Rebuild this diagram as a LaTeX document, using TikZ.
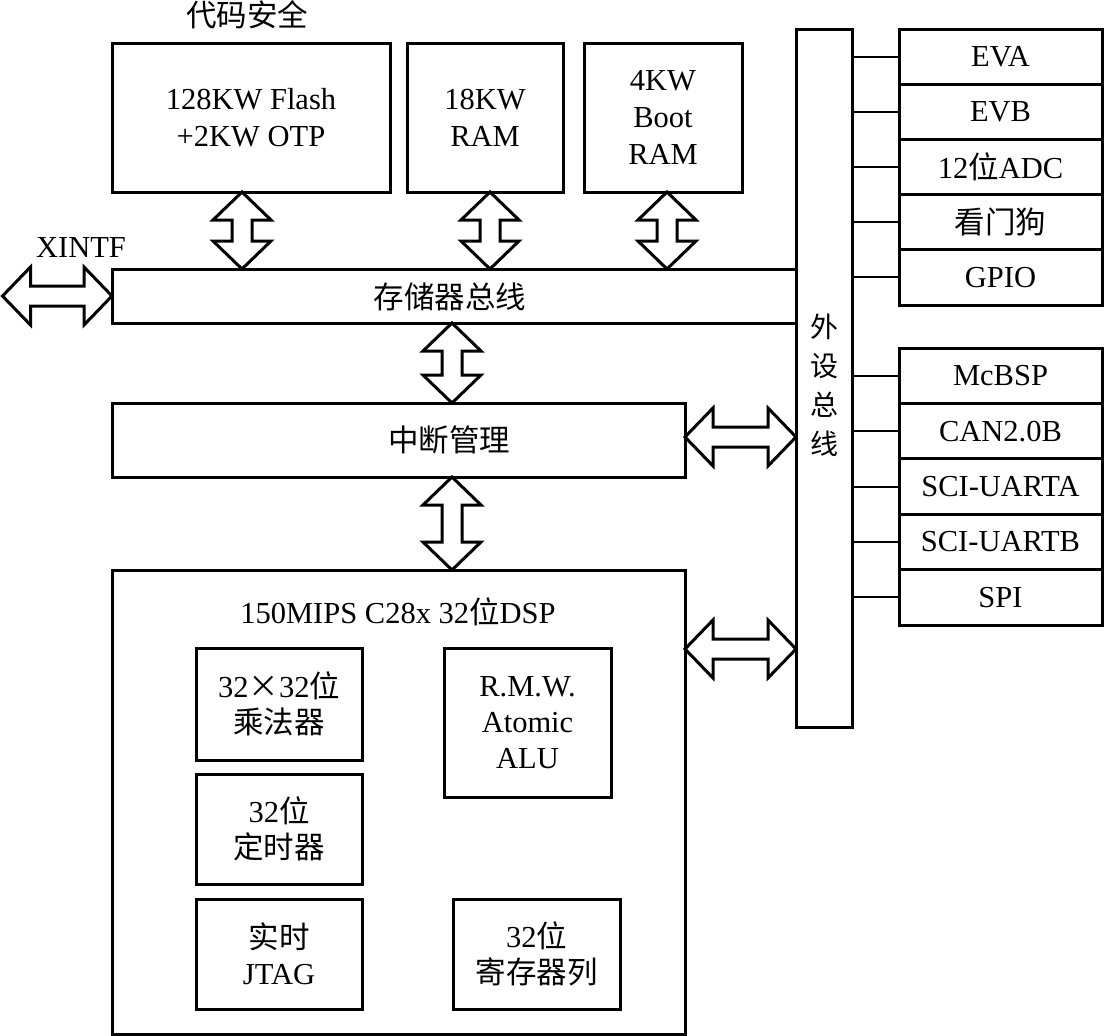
\documentclass[tikz,border=0pt]{standalone}
\usepackage{fontspec}
\setmainfont{Liberation Serif}
\newfontfamily\cjk{Noto Sans CJK SC}
\usetikzlibrary{calc}
\newcommand{\zh}[1]{{\cjk #1}}
\newcommand{\vbi}[2]{\draw[biarrow] let \p1=(#1), \p2=(#2) in
  (\x1,\y1) -- (\x1+29pt,\y1-28pt) -- (\x1+10pt,\y1-28pt) -- (\x1+10pt,\y2+28pt) -- (\x1+29pt,\y2+28pt)
  -- (\x1,\y2) -- (\x1-29pt,\y2+28pt) -- (\x1-10pt,\y2+28pt) -- (\x1-10pt,\y1-28pt) -- (\x1-29pt,\y1-28pt) -- cycle;}
\newcommand{\hbi}[2]{\draw[biarrow] let \p1=(#1), \p2=(#2) in
  (\x1,\y1) -- (\x1+28pt,\y1+29pt) -- (\x1+28pt,\y1+10pt) -- (\x2-28pt,\y1+10pt) -- (\x2-28pt,\y1+29pt)
  -- (\x2,\y1) -- (\x2-28pt,\y1-29pt) -- (\x2-28pt,\y1-10pt) -- (\x1+28pt,\y1-10pt) -- (\x1+28pt,\y1-29pt) -- cycle;}
\begin{document}
\begin{tikzpicture}[x=1pt,y=-1pt,
  box/.style={draw, line width=3pt, inner sep=0pt, outer sep=0pt, align=center, font=\fontsize{30.5}{37}\selectfont},
  ibox/.style={box, minimum width=166, font=\fontsize{30.5}{36}\selectfont},
  rbox/.style={box, minimum width=203},
  txt/.style={inner sep=0pt, align=center, font=\fontsize{30.5}{37}\selectfont},
  thinline/.style={line width=2pt},
  biarrow/.style={draw, line width=3pt, fill=white, line join=miter}]
\useasboundingbox (0,0) rectangle (1104,1036);

% memory blocks
\node[txt] (sec) at (247,15) {\zh{代码安全}};
\node[box, minimum width=278, minimum height=149] (flash) at (251,117.5) {128KW Flash\\+2KW OTP};
\node[box, minimum width=156, minimum height=149] (ram) at (485,117.5) {18KW\\RAM};
\node[box, minimum width=158, minimum height=149] (boot) at (663,117.5) {4KW\\Boot\\RAM};

% buses
\node[box, minimum width=684, minimum height=54] (mbus) at (454,296) {};
\node[txt] (mbust) at (450,297) {\zh{存储器总线}};
\node[box, minimum width=56, minimum height=698] (pbus) at (824,378) {};
\node[txt, font=\fontsize{28}{39}\selectfont] (pbust) at (824,385) {\zh{外}\\\zh{设}\\\zh{总}\\\zh{线}};
\node[txt] (xintf) at (81,248) {XINTF};

% interrupt and DSP
\node[box, minimum width=573, minimum height=74] (intr) at (398.5,440) {};
\node[txt] (intrt) at (449,440) {\zh{中断管理}};
\node[box, minimum width=573, minimum height=464] (dsp) at (398.5,802) {};
\node[txt] (dspt) at (398,612) {150MIPS C28x 32\zh{位}DSP};
\node[ibox, minimum height=112] (mult) at (279,704) {32\zh{×}32\zh{位}\\\zh{乘法器}};
\node[ibox, minimum height=110] (timer) at (279,829) {32\zh{位}\\\zh{定时器}};
\node[ibox, minimum height=110] (jtag) at (279,954) {\zh{实时}\\JTAG};
\node[ibox, minimum width=167, minimum height=149] (alu) at (527.5,722.5) {R.M.W.\\Atomic\\ALU};
\node[ibox, minimum width=167, minimum height=110] (reg) at (536.5,954) {32\zh{位}\\\zh{寄存器列}};

% peripherals
\node[rbox, minimum height=55.2] (eva) at (1000.5,56.6) {EVA};
\node[rbox, minimum height=55.2] (evb) at (1000.5,111.8) {EVB};
\node[rbox, minimum height=55.2] (adc) at (1000.5,167.0) {12\zh{位}ADC};
\node[rbox, minimum height=55.2] (wd) at (1000.5,222.2) {\zh{看门狗}};
\node[rbox, minimum height=55.2] (gpio) at (1000.5,277.4) {GPIO};
\node[rbox, minimum height=55.4] (mcbsp) at (1000.5,375.7) {McBSP};
\node[rbox, minimum height=55.4] (can) at (1000.5,431.1) {CAN2.0B};
\node[rbox, minimum height=55.4] (scia) at (1000.5,486.5) {SCI-UARTA};
\node[rbox, minimum height=55.4] (scib) at (1000.5,541.9) {SCI-UARTB};
\node[rbox, minimum height=55.4] (spi) at (1000.5,597.3) {SPI};

\foreach \n in {eva,evb,adc,wd,gpio,mcbsp,can,scia,scib,spi}
  \draw[thinline] (pbus.east |- \n.west) -- (\n.west);

% helper coordinates for arrow positions
\coordinate (xf) at (242,0);
\coordinate (xr) at (490,0);
\coordinate (xb) at (667,0);
\coordinate (xm) at (452,0);
\coordinate (xl) at (2.5,0);
\coordinate (yi) at (0,437);
\coordinate (yd) at (0,649);

% double arrows
\vbi{xf |- flash.south}{xf |- mbus.north}
\vbi{xr |- ram.south}{xr |- mbus.north}
\vbi{xb |- boot.south}{xb |- mbus.north}
\vbi{xm |- mbus.south}{xm |- intr.north}
\vbi{xm |- intr.south}{xm |- dsp.north}
\hbi{xl |- mbus.west}{mbus.west}
\hbi{intr.east |- yi}{pbus.west |- yi}
\hbi{dsp.east |- yd}{pbus.west |- yd}
\end{tikzpicture}
\end{document}
